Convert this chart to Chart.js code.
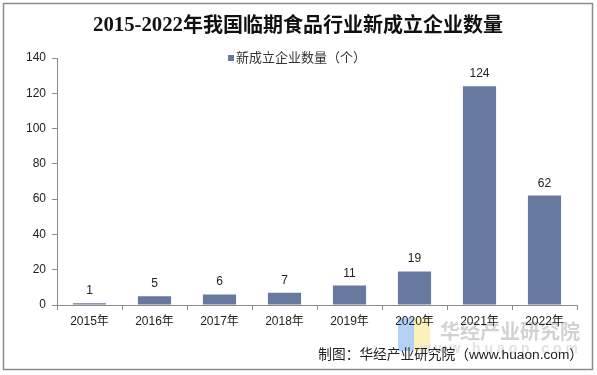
<!DOCTYPE html>
<html><head><meta charset="utf-8">
<script src="https://cdn.jsdelivr.net/npm/chart.js@4"></script>
<style>html,body{margin:0;padding:0;background:#fff}#w{width:597px;height:375px;position:relative}</style>
</head><body><div id="w"><canvas id="c" width="597" height="375"></canvas></div>
<script>
const categories = ["2015年","2016年","2017年","2018年","2019年","2020年","2021年","2022年"];
const values = [1,5,6,7,11,19,124,62];
const yTicks = [0,20,40,60,80,100,120,140];
const seriesName = "新成立企业数量（个）";
const titleDigits = "2015-2022";
const titleText = "年我国临期食品行业新成立企业数量";
const sourceText = "制图：华经产业研究院（www.huaon.com）";
const barColor = "#67799f";
const CJK = '"Liberation Sans", Arial, "Noto Sans CJK SC", sans-serif';

const deco = {
  id: 'deco',
  beforeDraw(chart) {
    const ctx = chart.ctx;
    ctx.save();
    ctx.fillStyle = '#fff';
    ctx.fillRect(0,0,597,375);
    ctx.fillStyle = 'rgba(160,198,245,0.8)';
    ctx.fillRect(398,318,16,33);
    ctx.fillStyle = 'rgba(253,240,180,0.9)';
    ctx.fillRect(414,318,16,33);
    ctx.fillStyle = '#d2d2d2';
    ctx.font = 'bold 20px "Noto Sans CJK SC"';
    ctx.textBaseline = 'middle';
    ctx.textAlign = 'left';
    ctx.fillText('华经产业研究院', 440, 331);
    ctx.font = 'bold 14px "Liberation Sans"';
    ctx.fillStyle = '#e2e2e2';
    ctx.fillText('w w w . h u a o n . c o m', 420, 349);
    ctx.restore();
  },
  afterDraw(chart) {
    const ctx = chart.ctx;
    ctx.save();
    ctx.strokeStyle = '#8c8c8c';
    ctx.lineWidth = 1.5;
    ctx.strokeRect(3.5,3.5,589,366);
    // title
    ctx.fillStyle = '#111';
    ctx.textBaseline = 'middle';
    ctx.textAlign = 'left';
    ctx.font = 'bold 22px "Liberation Serif"';
    const dw = ctx.measureText(titleDigits).width;
    ctx.save();
    ctx.translate(93, 25);
    ctx.scale(90/dw, 1);
    ctx.fillText(titleDigits, 0, 0);
    ctx.restore();
    ctx.font = 'bold 20px "Noto Sans CJK SC"';
    const tw = ctx.measureText(titleText).width;
    ctx.save();
    ctx.translate(183, 24);
    ctx.scale(320/tw, 1);
    ctx.fillText(titleText, 0, 0);
    ctx.restore();
    // legend
    ctx.fillStyle = barColor;
    ctx.fillRect(228,55,6,6);
    ctx.fillStyle = '#333';
    ctx.font = '13px ' + CJK;
    ctx.fillText(seriesName, 236, 58);
    // data labels
    const meta = chart.getDatasetMeta(0);
    ctx.textAlign = 'center';
    ctx.textBaseline = 'alphabetic';
    ctx.font = '12px ' + CJK;
    ctx.fillStyle = '#222';
    meta.data.forEach((el, i) => {
      ctx.fillText(String(values[i]), el.x, el.y - 9);
    });
    // source
    ctx.textAlign = 'right';
    ctx.textBaseline = 'middle';
    ctx.font = '13.7px ' + CJK;
    ctx.fillStyle = '#222';
    ctx.fillText(sourceText, 583, 355);
    ctx.restore();
  }
};

new Chart(document.getElementById('c'), {
  type: 'bar',
  data: { labels: categories, datasets: [{ label: seriesName, data: values, backgroundColor: barColor, barPercentage: 0.51, categoryPercentage: 1.0 }] },
  options: {
    responsive: false, animation: false, devicePixelRatio: 1,
    layout: { padding: { top: 58, right: 20, left: 0, bottom: 0 } },
    plugins: { legend: { display: false }, title: { display: false }, tooltip: { enabled: false } },
    scales: {
      x: {
        afterFit(s) { s.height = 70; },
        grid: { drawOnChartArea: false, drawTicks: true, tickLength: 5, color: '#8c8c8c', offset: true },
        border: { color: '#8c8c8c', width: 1 },
        ticks: { color: '#222', font: { size: 12, family: CJK }, padding: 4, maxRotation: 0 }
      },
      y: {
        min: 0, max: 140,
        afterFit(s) { s.width = 57; },
        afterBuildTicks(s) { s.ticks = yTicks.map(v => ({ value: v })); },
        grid: { drawOnChartArea: false, drawTicks: true, tickLength: 5, color: '#8c8c8c' },
        border: { color: '#8c8c8c', width: 1 },
        ticks: { color: '#222', font: { size: 12, family: CJK }, padding: 6 }
      }
    }
  },
  plugins: [deco]
});
</script></body></html>
